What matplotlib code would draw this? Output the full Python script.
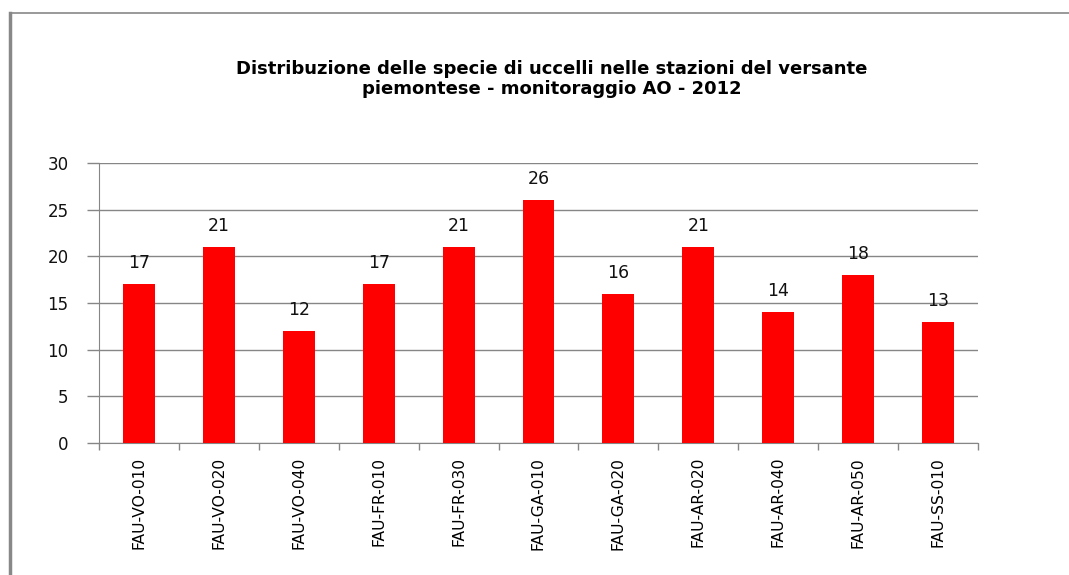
import numpy as np
import matplotlib
matplotlib.use('Agg')
import matplotlib.pyplot as plt
from matplotlib.lines import Line2D

# stations and number of bird species
stations = ['FAU-VO-010', 'FAU-VO-020', 'FAU-VO-040', 'FAU-FR-010', 'FAU-FR-030',
            'FAU-GA-010', 'FAU-GA-020', 'FAU-AR-020', 'FAU-AR-040', 'FAU-AR-050',
            'FAU-SS-010']
species = [17, 21, 12, 17, 21, 26, 16, 21, 14, 18, 13]
yticks = [0, 5, 10, 15, 20, 25, 30]

W, H = 1069, 575
fig = plt.figure(figsize=(W / 100, H / 100), dpi=100)
ax = fig.add_axes([99 / W, 1 - 443 / H, (978 - 99) / W, (443 - 163) / H])

grey = '#868686'
x = np.arange(len(stations))
ax.bar(x, species, width=0.4, color='#ff0000', zorder=3)
for xi, v in zip(x, species):
    ax.text(xi, v + 1.3, str(v), ha='center', va='bottom', fontsize=12.5,
            family='DejaVu Sans', color='#111111')

ax.set_xlim(-0.5, len(stations) - 0.5)
ax.set_ylim(0, 30)
ax.set_yticks(yticks)
ax.set_yticklabels([str(t) for t in yticks], fontsize=12, family='DejaVu Sans', color='#111111')
ax.yaxis.grid(True, color=grey, linewidth=1, zorder=0)
ax.tick_params(axis='y', length=9, color=grey, width=1, pad=13)

# category labels in the middle, ticks on the boundaries
ax.set_xticks(np.arange(len(stations) + 1) - 0.5)
ax.set_xticklabels([])
ax.set_xticks(x, minor=True)
ax.set_xticklabels(stations, minor=True, rotation=90, fontsize=11.2,
                   family='Liberation Sans Narrow', va='top')
ax.tick_params(axis='x', which='major', length=5, color=grey, width=1)
ax.tick_params(axis='x', which='minor', length=0, pad=10)

for side in ['top', 'right']:
    ax.spines[side].set_visible(False)
ax.spines['left'].set_color(grey)
ax.spines['bottom'].set_color(grey)

title1 = 'Distribuzione delle specie di uccelli nelle stazioni del versante'
title2 = 'piemontese - monitoraggio AO - 2012'
fig.text(552 / W, 1 - 74 / H, title1, ha='center', va='baseline', fontsize=13,
         fontweight='bold', family='DejaVu Sans')
fig.text(552 / W, 1 - 94 / H, title2, ha='center', va='baseline', fontsize=13,
         fontweight='bold', family='DejaVu Sans')

# chart frame (left and top edges)
fig.add_artist(Line2D([10 / W, 10 / W], [0, 1 - 13 / H], color='#888888', linewidth=2.5))
fig.add_artist(Line2D([10 / W, 1], [1 - 13 / H, 1 - 13 / H], color='#888888', linewidth=1.2))

fig.savefig('out.png', dpi=100)
